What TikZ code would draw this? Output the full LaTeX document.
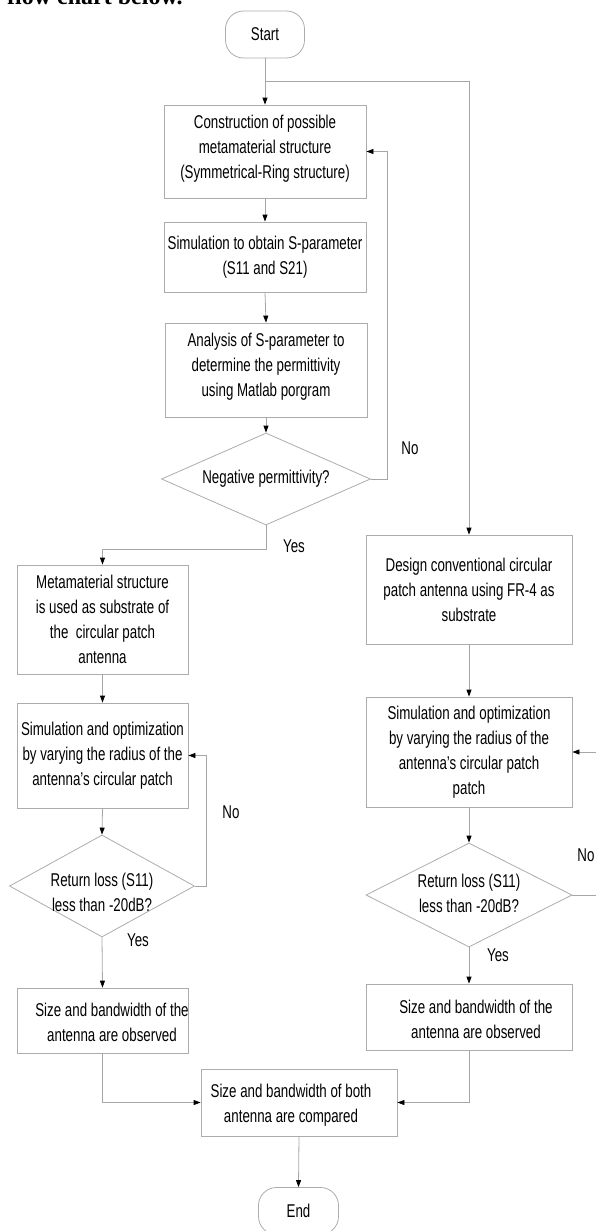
\documentclass[tikz,border=0pt]{standalone}
\usepackage{fontspec}
\setmainfont{Liberation Sans}[FakeStretch=0.72]
\newfontfamily\topserif{Liberation Serif}
\usetikzlibrary{arrows.meta,shapes.geometric}
\newcommand\flowfs{\fontsize{18.5}{25}\selectfont}
\begin{document}
\begin{tikzpicture}[x=1pt,y=-1pt,
  line/.style={draw=gray!70, line width=0.8pt},
  arr/.style={line, -{Triangle[length=7pt,width=5pt,color=black]}},
  box/.style={draw=gray!65, line width=0.8pt, rectangle, inner sep=0pt, align=center, font=\flowfs},
  term/.style={box, rounded corners=18pt, minimum width=79pt, minimum height=47pt},
  dia/.style={diamond, draw=gray!65, line width=0.8pt, inner sep=0pt},
  lbl/.style={font=\flowfs, inner sep=0pt, align=center}]
\useasboundingbox (0,0) rectangle (596,1231);
\clip (0,0) rectangle (596,1231);

% top cut-off text
\node[anchor=base west, inner sep=0pt, font=\topserif\bfseries\fontsize{24}{28}\selectfont] (toptext) at (7,4.5) {flow chart below.};

% nodes
\node[term] (start) at (265,34.5) {Start};
\node[box, minimum width=202pt, minimum height=93pt, label={[lbl,yshift=3pt]center:Construction of possible\\metamaterial structure\\(Symmetrical-Ring structure)}] (b1) at (265,151.5) {};
\node[box, minimum width=202pt, minimum height=70pt] (b2) at (265,257) {Simulation to obtain S-parameter\\(S11 and S21)};
\node[box, minimum width=202pt, minimum height=94pt, label={[lbl,yshift=3pt]center:Analysis of S-parameter to\\determine the permittivity\\using Matlab porgram}] (b3) at (266,370) {};
\node[dia, minimum width=209pt, minimum height=92pt, label={[lbl]center:Negative permittivity?}] (d1) at (266,479) {};

\node[box, minimum width=171pt, minimum height=109pt] (mm) at (102.5,619.5) {Metamaterial structure\\is used as substrate of\\the~ circular patch\\antenna};
\node[box, minimum width=171pt, minimum height=105pt] (s1) at (102.5,755.5) {Simulation and optimization\\by varying the radius of the\\antenna’s circular patch};
\node[dia, minimum width=185pt, minimum height=102pt, label={[lbl,yshift=-6pt]center:Return loss (S11)\\less than -20dB?}] (d2) at (102,886) {};
\node[box, minimum width=171pt, minimum height=65pt] (z1) at (102.5,1020.5) {};
\node[lbl] (z1t) at (112,1022) {Size and bandwidth of the\\antenna are observed};

\node[box, minimum width=206pt, minimum height=109pt] (des) at (469,589.5) {Design conventional circular\\patch antenna using FR-4 as\\substrate};
\node[box, minimum width=206pt, minimum height=110pt] (s2) at (469,752) {Simulation and optimization\\by varying the radius of the\\antenna’s circular patch\\patch};
\node[dia, minimum width=206pt, minimum height=104pt, label={[lbl,yshift=2pt]center:Return loss (S11)\\less than -20dB?}] (d3) at (469,895) {};
\node[box, minimum width=206pt, minimum height=66pt] (z2) at (469,1017) {};
\node[lbl] (z2t) at (476,1019) {Size and bandwidth of the\\antenna are observed};

\node[box, minimum width=196pt, minimum height=67pt] (cmp) at (299,1102.5) {};
\node[lbl] (cmpt) at (291,1105) {Size and bandwidth of both\\antenna are compared};
\node[term, minimum width=80pt] (end) at (298.5,1211) {End};

% labels
\node[lbl] (no1) at (410,448) {No};
\node[lbl] (yes1) at (294,546) {Yes};
\node[lbl] (no2) at (231,812) {No};
\node[lbl] (yes2) at (138,940) {Yes};
\node[lbl] (no3) at (586,855) {No};
\node[lbl] (yes3) at (498,955) {Yes};

% connectors
\coordinate (br) at (265,81);
\draw[arr] (start.south) -- (b1.north);
\draw[arr] (br) -| (des.north);
\draw[arr] (b1.south) -- (b2.north);
\draw[arr] (b2.south) -- (b3.north);
\draw[arr] (b3.south) -- (d1.north);
\draw[arr] (d1.east) -- ++(16,0) |- (b1.east);
\draw[arr] (d1.south) -- ++(0,24) -| (mm.north);
\draw[arr] (mm.south) -- (s1.north);
\draw[arr] (s1.south) -- (d2.north);
\draw[arr] (d2.east) -- ++(11,0) |- (s1.east);
\draw[arr] (d2.south) -- (z1.north);
\draw[arr] (des.south) -- (s2.north);
\draw[arr] (s2.south) -- (d3.north);
\draw[arr] (d3.east) -- ++(40,0) |- (s2.east);
\draw[arr] (d3.south) -- (z2.north);
\draw[arr] (z1.south) |- (cmp.west);
\draw[arr] (z2.south) |- (cmp.east);
\draw[arr] (cmp.south) -- (end.north);
\end{tikzpicture}
\end{document}
